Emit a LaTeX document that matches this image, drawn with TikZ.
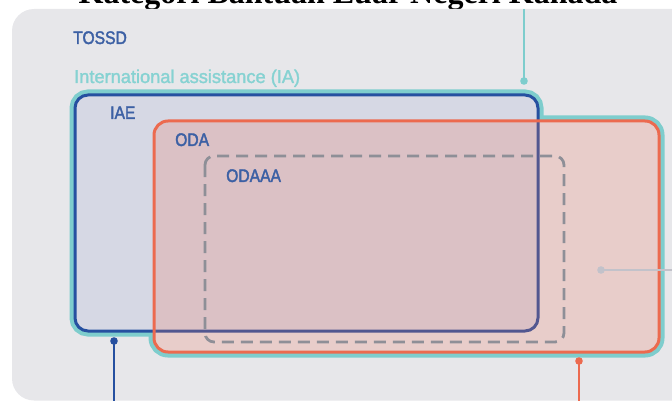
\documentclass[tikz,border=0pt]{standalone}
\usepackage{fontspec}
\setmainfont{Liberation Serif}
\newfontfamily\labfont[FakeStretch=0.86,FakeBold=2]{Liberation Sans}
\newfontfamily\iafont[FakeStretch=0.98,FakeBold=1.6]{Liberation Sans}
\definecolor{bggrey}{HTML}{E7E7EA}
\definecolor{iateal}{HTML}{7ECDCD}
\definecolor{iatext}{HTML}{86D2D2}
\definecolor{iaeblue}{HTML}{2650A0}
\definecolor{labblue}{HTML}{3C60A4}
\definecolor{iaefill}{HTML}{D6D8E4}
\definecolor{odaorange}{HTML}{EC6A4F}
\definecolor{odatint}{HTML}{F07159}
\definecolor{dashgrey}{HTML}{8E8F97}
\definecolor{connGrey}{HTML}{C2C2CA}
\tikzset{
  tealedge/.style={draw=iateal, line width=11pt},
  cover/.style={fill=bggrey},
  iaebox/.style={fill=iaefill, draw=iaeblue, line width=3pt},
  odabox/.style={fill=odatint, fill opacity=0.22, draw=odaorange, draw opacity=1, line width=3pt},
  odaaabox/.style={draw=dashgrey, line width=2.8pt, dash pattern=on 12pt off 7pt},
  lab/.style={anchor=base west, inner sep=0pt, text=labblue, font=\labfont\fontsize{18.2}{20}\selectfont},
  conn/.style={line width=2pt},
}
\begin{document}
\begin{tikzpicture}[x=1pt,y=-1pt]
\useasboundingbox (0,0) rectangle (672,401);
\clip (0,0) rectangle (672,401);
% title (cut by the top edge, as in the reference)
\node[anchor=base, inner sep=0pt, font=\bfseries\fontsize{32}{34}\selectfont] (title) at (348,3.5) {Kategori Bantuan Luar Negeri Kanada};
% background panel
\fill[bggrey, rounded corners=22pt] (12,9) rectangle (720,400.5);
% IA outline (union of both boxes)
\draw[tealedge, rounded corners=13pt] (75,95) rectangle (538,331);
\draw[tealedge, rounded corners=14pt] (154,121) rectangle (659,352);
\fill[cover, rounded corners=13pt] (75,95) rectangle (538,331);
\fill[cover, rounded corners=14pt] (154,121) rectangle (659,352);
% IAE
\path[iaebox, rounded corners=13pt] (75,95) rectangle (538,331);
% ODA
\path[odabox, rounded corners=14pt] (154,121) rectangle (659,352);
% ODAAA
\draw[odaaabox, rounded corners=9pt] (205,156) rectangle (564,342);
% labels
\node[lab] (tossd) at (73,44) {TOSSD};
\node[anchor=base west, inner sep=0pt, text=iatext, font=\iafont\fontsize{18.6}{20}\selectfont] (ia) at (74,83) {International assistance (IA)};
\node[lab] (iae) at (110,119) {IAE};
\node[lab] (oda) at (175,146) {ODA};
\node[lab] (odaaa) at (226,182) {ODAAA};
% connectors
\coordinate (tealdot) at (524,81);
\coordinate (tealend) at (524,9);
\coordinate (bluedot) at (114,341);
\coordinate (blueend) at (114,401);
\coordinate (orangedot) at (579,361);
\coordinate (orangeend) at (579,401);
\coordinate (greydot) at (601,270);
\coordinate (greyend) at (672,270);
\draw[conn, iateal] (tealend) -- (tealdot);
\fill[iateal] (tealdot) circle (3.8pt);
\draw[conn, iaeblue] (bluedot) -- (blueend);
\fill[iaeblue] (bluedot) circle (3.8pt);
\draw[conn, odaorange] (orangedot) -- (orangeend);
\fill[odaorange] (orangedot) circle (3.8pt);
\draw[conn, connGrey] (greydot) -- (greyend);
\fill[connGrey] (greydot) circle (3.8pt);
\end{tikzpicture}
\end{document}
